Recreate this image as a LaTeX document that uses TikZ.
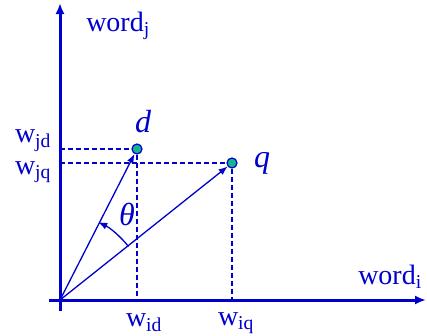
\documentclass[tikz,border=0pt]{standalone}
\usepackage{fontspec}
\setmainfont{Liberation Serif}
\usetikzlibrary{arrows.meta}
\definecolor{ink}{RGB}{0,0,204}
\definecolor{pt}{RGB}{20,180,140}
\begin{document}
\begin{tikzpicture}[x=1pt,y=-1pt,
  axis/.style={ink,line width=3pt,-{Latex[length=11pt,width=9pt]}},
  vec/.style={ink,line width=1.3pt,-{Latex[length=9pt,width=7pt]}},
  guide/.style={ink,line width=1.3pt,dash pattern=on 5pt off 3pt},
  dot/.style={circle,draw=ink,fill=pt,line width=1.2pt,inner sep=0pt,minimum size=10pt},
  lbl/.style={text=ink,font=\fontsize{28}{28}\selectfont,inner sep=0pt},
  ital/.style={text=ink,font=\fontsize{32}{32}\selectfont\itshape,inner sep=0pt}]
\useasboundingbox (0,0) rectangle (427,335);
\coordinate (o) at (60,300);
\coordinate (yb) at (60,311);
\coordinate (yt) at (60,3);
\coordinate (xl) at (49,300);
\coordinate (xr) at (426,300);
\node[dot] (d) at (137,149) {};
\node[dot] (q) at (232,163) {};
\coordinate (yd) at (60,149);
\coordinate (yq) at (60,163);
\coordinate (xd) at (137,300);
\coordinate (xq) at (232,300);
\draw[guide] (yd) -- (d);
\draw[guide] (yq) -- (q);
\draw[guide] (d) -- (xd);
\draw[guide] (q) -- (xq);
\draw[axis] (yb) -- (yt);
\draw[axis] (xl) -- (xr);
\draw[vec] (o) -- (d);
\draw[vec] (o) -- (q);
\coordinate (a1) at (128.5,246.5);
\draw[vec] (a1) arc[start angle=-38.2,end angle=-64,radius=87];
\node[ital] (dl) at (143,122) {d};
\node[ital] (ql) at (262,163) {q};
\node[ital] (th) at (127,214) {θ};
\node[lbl] (wj) at (118,26) {word\textsubscript{j}};
\node[lbl] (wi) at (390,277) {word\textsubscript{i}};
\node[lbl] (wjd) at (33,141) {w\textsubscript{jd}};
\node[lbl] (wjq) at (33,172) {w\textsubscript{jq}};
\node[lbl] (wid) at (144,323) {w\textsubscript{id}};
\node[lbl] (wiq) at (236,323) {w\textsubscript{iq}};
\end{tikzpicture}
\end{document}
